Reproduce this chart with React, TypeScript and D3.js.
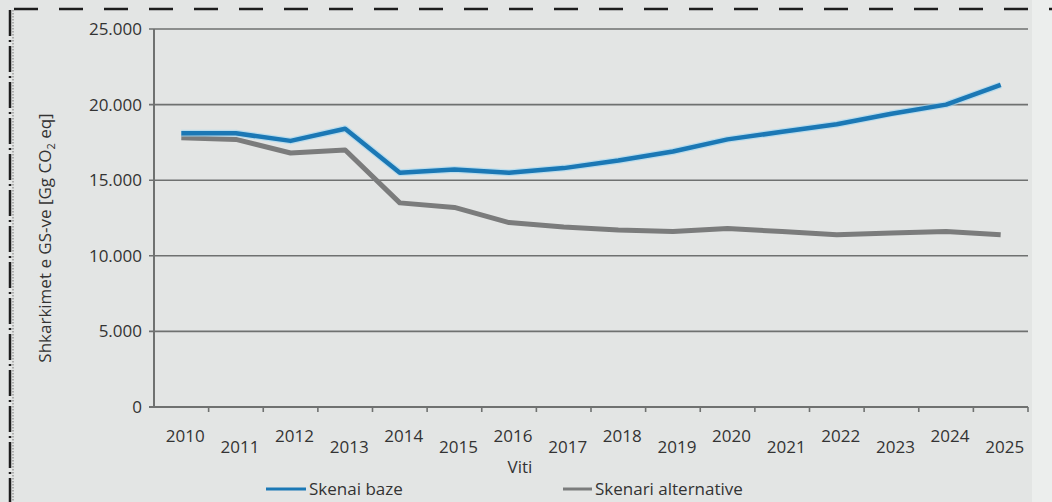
import React from "react";
import * as d3 from "d3";

const years = ["2010","2011","2012","2013","2014","2015","2016","2017","2018","2019","2020","2021","2022","2023","2024","2025"];
const baseScenario = [18100, 18100, 17600, 18400, 15500, 15700, 15500, 15800, 16300, 16900, 17700, 18200, 18700, 19400, 20000, 21300];
const altScenario = [17800, 17700, 16800, 17000, 13500, 13200, 12200, 11900, 11700, 11600, 11800, 11600, 11400, 11500, 11600, 11400];
const yTicks = [0, 5000, 10000, 15000, 20000, 25000];
const seriesNames = ["Skenai baze", "Skenari alternative"];
const yTitle = "Shkarkimet e GS-ve [Gg CO";
const xTitle = "Viti";

const W = 1052, H = 502;
const M = { left: 154, right: 1028, top: 29, bottom: 407 };
const FONT = "'Open Sans', 'Noto Sans', sans-serif";
const FS = 17;

export default function App() {
  const x = d3.scaleBand<string>().domain(years).range([M.left, M.right]);
  const y = d3.scaleLinear().domain([0, 25000]).range([M.bottom, M.top]);
  const fmt = (v: number) => (v === 0 ? "0" : d3.format(",")(v).replace(/,/g, "."));
  const line = d3
    .line<number>()
    .x((_, i) => (x(years[i]) as number) + x.bandwidth() / 2)
    .y((d) => y(d))
    .curve(d3.curveLinear);
  const textColor = "#333333";
  const gridColor = "#6f7170";
  return (
    <svg width={W} height={H} style={{ position: "absolute", left: 0, top: 0, display: "block" }}>
      <rect x={0} y={0} width={W} height={H} fill="#e3e5e4" />
      <rect x={1032} y={0} width={20} height={H} fill="#eceeed" />
      {/* border */}
      <line x1={14} y1={9} x2={W} y2={9} stroke="#1c1c1c" strokeWidth={2.5} strokeDasharray="24 21" />
      <line x1={10} y1={10} x2={10} y2={H} stroke="#1c1c1c" strokeWidth={2.5} strokeDasharray="26 4 2 4" />
      <line x1={13} y1={10} x2={13} y2={H} stroke="#777" strokeWidth={1} strokeDasharray="1.5 1.5" />
      {/* gridlines */}
      {yTicks.map((t) => (
        <g key={t}>
          <line x1={M.left - 5} x2={M.right} y1={y(t)} y2={y(t)} stroke={gridColor} strokeWidth={t === 0 ? 2 : 1.6} />
          <text x={M.left - 12} y={y(t)} dy="0.35em" textAnchor="end" fontFamily={FONT} fontSize={FS} fill={textColor}>
            {fmt(t)}
          </text>
        </g>
      ))}
      <line x1={M.left} x2={M.left} y1={M.top} y2={M.bottom} stroke={gridColor} strokeWidth={2} />
      {/* x ticks */}
      {years.map((yr, i) => {
        const xt = (x(yr) as number) + x.bandwidth();
        const cx = (x(yr) as number) + x.bandwidth() / 2;
        return (
          <g key={yr}>
            <line x1={xt} x2={xt} y1={M.bottom} y2={M.bottom + 5} stroke={gridColor} strokeWidth={1.6} />
            <text x={cx + 4} y={i % 2 === 0 ? 436 : 447} dy="0.35em" textAnchor="middle" fontFamily={FONT} fontSize={FS} fill={textColor}>
              {yr}
            </text>
          </g>
        );
      })}
      {/* lines */}
      <path d={line(altScenario) || ""} fill="none" stroke="#7b7c7c" strokeWidth={5} strokeLinejoin="round" />
      <path d={line(baseScenario) || ""} fill="none" stroke="#9fd6f2" strokeWidth={7} strokeLinejoin="round" opacity={0.6} />
      <path d={line(baseScenario) || ""} fill="none" stroke="#1b78b5" strokeWidth={4.5} strokeLinejoin="round" />
      {/* titles */}
      <text x={520} y={467} dy="0.35em" textAnchor="middle" fontFamily={FONT} fontSize={FS} fill={textColor}>
        {xTitle}
      </text>
      <text transform={`translate(45, 238) rotate(-90)`} textAnchor="middle" dy="0.35em" fontFamily={FONT} fontSize={FS} fill={textColor}>
        {yTitle}
        <tspan fontSize={11} dy="4">2</tspan>
        <tspan dy="-4"> eq]</tspan>
      </text>
      {/* legend */}
      <line x1={266} x2={306} y1={489} y2={489} stroke="#1b78b5" strokeWidth={3} />
      <text x={309} y={489} dy="0.35em" fontFamily={FONT} fontSize={FS} fill={textColor}>
        {seriesNames[0]}
      </text>
      <line x1={563} x2={592} y1={489} y2={489} stroke="#7b7c7c" strokeWidth={3} />
      <text x={595} y={489} dy="0.35em" fontFamily={FONT} fontSize={FS} fill={textColor}>
        {seriesNames[1]}
      </text>
    </svg>
  );
}
